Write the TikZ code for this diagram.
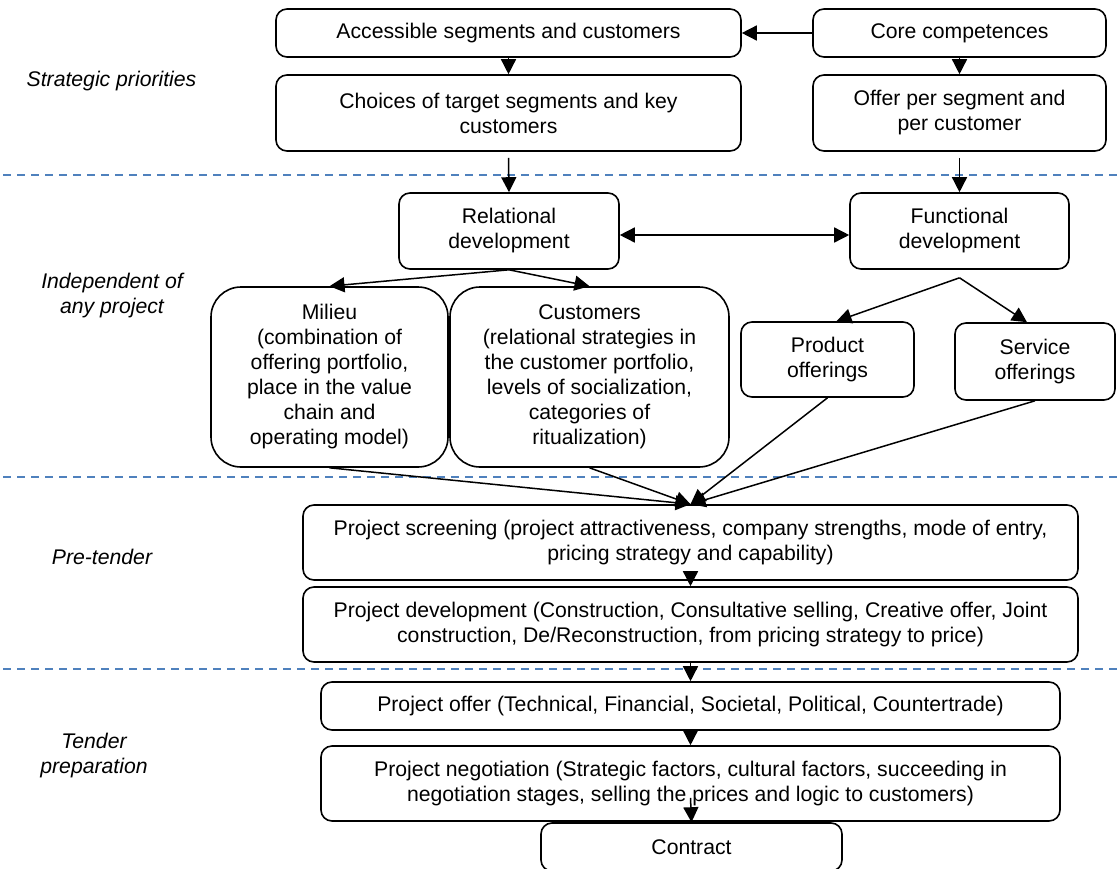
\documentclass[tikz,border=0pt]{standalone}
\usepackage{fontspec}
\setmainfont{Liberation Sans}
\usetikzlibrary{arrows.meta}
\definecolor{divider}{RGB}{79,129,189}
\begin{document}
\begin{tikzpicture}[x=1pt,y=-1pt,
  box/.style={draw, line width=1.6pt, rounded corners=11pt, inner sep=0pt,
    align=center, font=\fontsize{21.2}{25}\selectfont},
  bigbox/.style={box, rounded corners=30pt},
  phase/.style={align=center, font=\fontsize{21.2}{25}\selectfont\itshape},
  link/.style={line width=1.5pt, -{Triangle[length=15pt,width=15pt]}},
  twoway/.style={line width=1.5pt, {Triangle[length=15pt,width=15pt]}-{Triangle[length=15pt,width=15pt]}},
  band/.style={draw=divider, line width=1.5pt, dash pattern=on 8pt off 6pt}
]
\clip (0,0) rectangle (1117,868);

% phase dividers
\draw[band] (3,175) -- (1117,175);
\draw[band] (3,477) -- (1117,477);
\draw[band] (3,669) -- (1117,669);

% phase names
\node[phase] (p1) at (111.5,81) {Strategic priorities};
\node[phase] (p2) at (112,295.5) {Independent of\\any project};
\node[phase] (p3) at (102,557) {Pre-tender};
\node[phase] (p4) at (94,755.5) {Tender\\preparation};

% strategic priorities
\node[box, minimum width=465pt, minimum height=48pt] (acc) at (508.5,33) {Accessible segments and customers};
\node[box, minimum width=293pt, minimum height=48pt] (core) at (959.5,33) {Core competences};
\node[box, minimum width=465pt, minimum height=76pt] (choice) at (508.5,113) {Choices of target segments and key\\customers};
\node[box, minimum width=293pt, minimum height=76pt] (offer) at (959.5,113) {Offer per segment and\\per customer};

% development independent of projects
\node[box, minimum width=220pt, minimum height=76pt] (rel) at (509,231) {Relational\\development};
\node[box, minimum width=219pt, minimum height=76pt] (fun) at (959.5,231) {Functional\\development};
\node[bigbox, minimum width=237pt, minimum height=180pt] (milieu) at (329.5,377)
  {Milieu\\(combination of\\offering portfolio,\\place in the value\\chain and\\operating model)};
\node[bigbox, minimum width=279pt, minimum height=180pt] (cust) at (589.5,377)
  {Customers\\(relational strategies in\\the customer portfolio,\\levels of socialization,\\categories of\\ritualization)};
\node[box, minimum width=173pt, minimum height=75pt] (prod) at (827.5,359.5) {Product\\offerings};
\node[box, minimum width=160pt, minimum height=77pt] (serv) at (1035,361.5) {Service\\offerings};

% pre-tender
\node[box, minimum width=775pt, minimum height=75pt] (screen) at (690.5,542.5)
  {Project screening (project attractiveness, company strengths, mode of entry,\\pricing strategy and capability)};
\node[box, minimum width=775pt, minimum height=75pt] (devel) at (690.5,624.5)
  {Project development (Construction, Consultative selling, Creative offer, Joint\\construction, De/Reconstruction, from pricing strategy to price)};

% tender preparation
\node[box, minimum width=739pt, minimum height=48pt] (poffer) at (690.5,706)
  {Project offer (Technical, Financial, Societal, Political, Countertrade)};
\node[box, minimum width=739pt, minimum height=75pt] (nego) at (690.5,783.5)
  {Project negotiation (Strategic factors, cultural factors, succeeding in\\negotiation stages, selling the prices and logic to customers)};
\node[box, minimum width=301pt, minimum height=48pt] (contract) at (691.5,847) {Contract};

% connectors
\draw[link] (core.west) -- (acc.east);
\draw[link] (acc.south) -- (choice.north);
\draw[link] (core.south) -- (offer.north);
\draw[link] ([yshift=-6pt]choice.south) -- (rel.north);
\draw[link] ([yshift=-6pt]offer.south) -- (fun.north);
\draw[twoway] ([yshift=-4pt]rel.east) -- ([yshift=-4pt]fun.west);
\draw[link] (rel.south) -- (milieu.north);
\draw[link] (rel.south) -- (cust.north);
\coordinate (split) at ([yshift=-8pt]fun.south);
\draw[link] (split) -- ([xshift=9pt]prod.north);
\draw[link] (split) -- ([xshift=-8pt]serv.north);
\draw[link] (milieu.south) -- (screen.north);
\draw[link] (cust.south) -- (screen.north);
\draw[link] (prod.south) -- (screen.north);
\draw[link] (serv.south) -- (screen.north);
\draw[link] (screen.south) -- (devel.north);
\draw[link] ([yshift=2pt]devel.south) -- (poffer.north);
\draw[link] (poffer.south) -- (nego.north);
\draw[link] ([yshift=24pt]nego.south) -- (contract.north);
\end{tikzpicture}
\end{document}
